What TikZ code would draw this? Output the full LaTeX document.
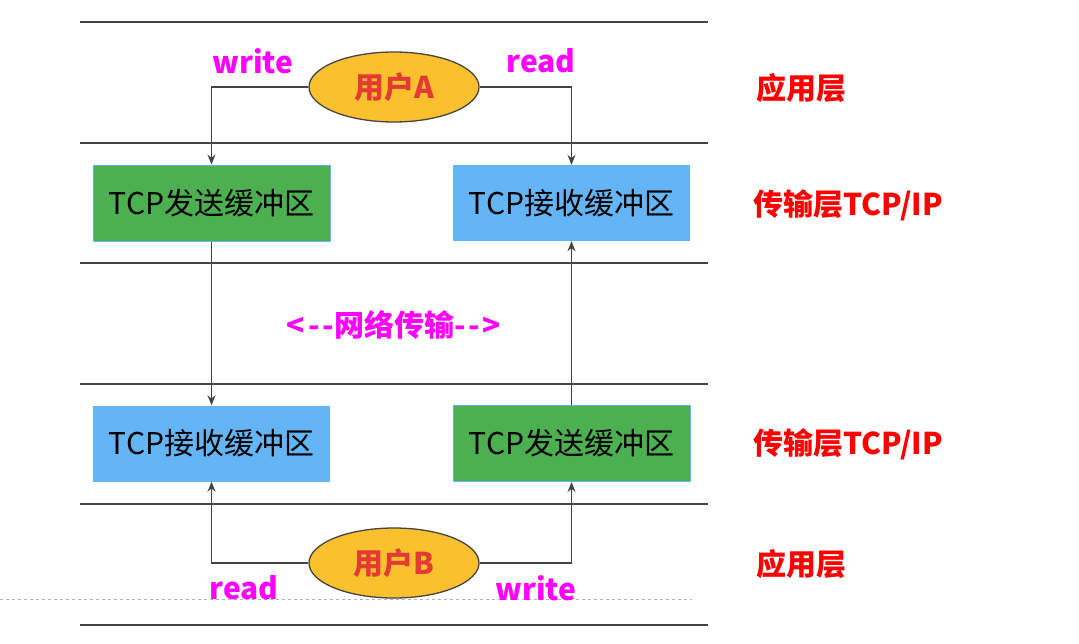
\documentclass[tikz,border=0pt]{standalone}
\usepackage{fontspec}
\setmainfont{Noto Sans CJK SC}
\usetikzlibrary{shapes.geometric,arrows.meta}
\definecolor{boxgreen}{HTML}{4CAF50}
\definecolor{boxblue}{HTML}{64B5F6}
\definecolor{userfill}{HTML}{FBC02D}
\definecolor{usertext}{HTML}{E53935}
\definecolor{linegray}{HTML}{444444}
\definecolor{opmag}{HTML}{FF00FF}
\definecolor{layred}{HTML}{FF0000}
\tikzset{
  layerline/.style={draw=linegray, line width=1.5pt},
  bufbox/.style={minimum width=237pt, minimum height=76pt, inner sep=0pt, font=\fontsize{30}{36}\selectfont, text=black},
  sendbox/.style={bufbox, fill=boxgreen, draw=boxblue, line width=1pt},
  recvbox/.style={bufbox, fill=boxblue},
  user/.style={ellipse, fill=userfill, draw=linegray, line width=1.3pt, minimum width=170pt, minimum height=70pt, inner sep=0pt, text=usertext, font=\bfseries\fontsize{30}{36}\selectfont},
  conn/.style={draw=linegray, line width=1.5pt, -{Stealth[length=10pt,width=8pt]}},
  oplabel/.style={text=opmag, font=\bfseries\fontsize{30}{36}\selectfont, inner sep=0pt},
  layerlabel/.style={text=layred, font=\bfseries\fontsize{30}{36}\selectfont, inner sep=0pt},
}
\begin{document}
\begin{tikzpicture}[x=1pt,y=-1pt]
\useasboundingbox (0,0) rectangle (1079,643);
% layer lines
\foreach \yy [count=\i] in {22,143,263,384,504,625}
  \draw[layerline] (80,\yy) coordinate (l\i a) -- (708,\yy) coordinate (l\i b);
\draw[gray!60, dashed, line width=0.8pt] (0,599) coordinate (da) -- (692,599) coordinate (db);
% users
\node[user] (ua) at (394,87) {用户A};
\node[user] (ub) at (394,563) {用户B};
% boxes
\node[sendbox] (s1) at (211.5,203) {TCP发送缓冲区};
\node[recvbox] (r1) at (571.5,203) {TCP接收缓冲区};
\node[recvbox] (r2) at (211.5,443.5) {TCP接收缓冲区};
\node[sendbox] (s2) at (571.5,443.5) {TCP发送缓冲区};
% connectors
\draw[conn] (ua.west) -| (s1.north);
\draw[conn] (ua.east) -| (r1.north);
\draw[conn] (s1.south) -- (r2.north);
\draw[conn] (s2.north) -- (r1.south);
\draw[conn] (ub.west) -| (r2.south);
\draw[conn] (ub.east) -| (s2.south);
% labels
\node[oplabel] (w1) at (253,61) {write};
\node[oplabel] (rd1) at (541,61) {read};
\node[oplabel] (rd2) at (244,588) {read};
\node[oplabel] (w2) at (536,588) {write};
\node[oplabel] (net) at (394,325) {<\kern3pt-\kern3pt-网络传输-\kern3pt-\kern3pt>};
\node[layerlabel] (app1) at (801,88) {应用层};
\node[layerlabel] (tr1) at (848,205) {传输层TCP/IP};
\node[layerlabel] (tr2) at (848,444) {传输层TCP/IP};
\node[layerlabel] (app2) at (801,564) {应用层};
\end{tikzpicture}
\end{document}
